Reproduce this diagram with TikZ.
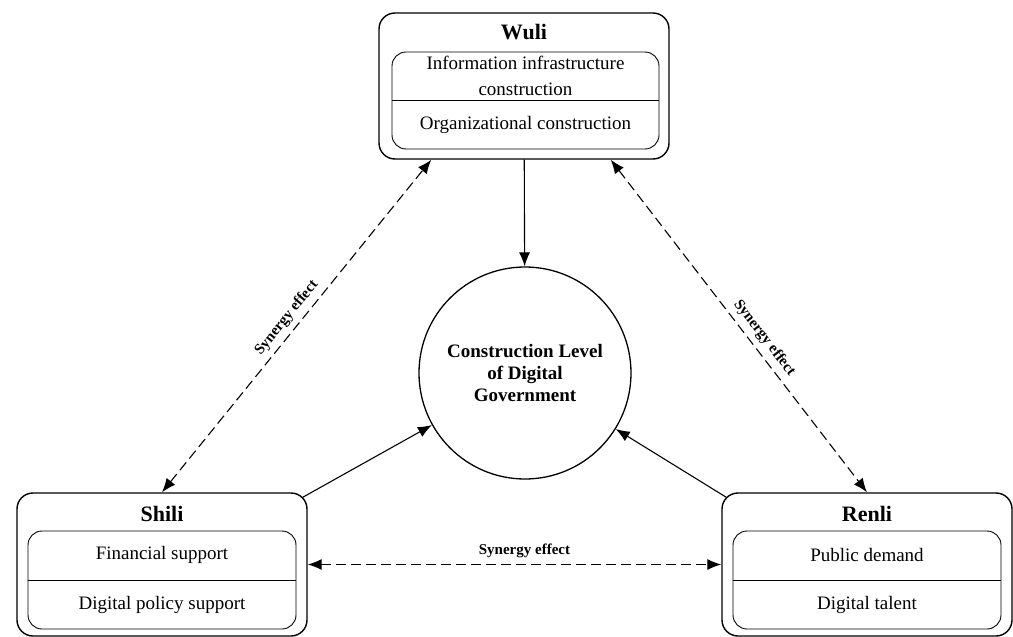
\documentclass[tikz,border=0pt]{standalone}
\usepackage{fontspec}
\setmainfont{Liberation Serif}
\usetikzlibrary{positioning}
\usetikzlibrary{calc}
\usetikzlibrary{arrows.meta}

\tikzset{
  outerbox/.style={draw, line width=1.4, rounded corners=16, minimum width=290, minimum height=143},
  innerbox/.style={draw, line width=0.9, rounded corners=14, minimum width=268, minimum height=98},
  title/.style={font=\fontsize{22}{24}\selectfont\bfseries},
  item/.style={font=\fontsize{19}{26}\selectfont, align=center},
  link/.style={-{Latex[length=14,width=11]}, line width=1.1},
  synergy/.style={{Latex[length=14,width=11]}-{Latex[length=14,width=11]}, line width=1.1, dash pattern=on 10 off 5},
  lbl/.style={font=\fontsize{15}{17}\selectfont\bfseries}
}

\begin{document}
\begin{tikzpicture}[x=1pt, y=-1pt]
      \useasboundingbox (0,0) rectangle (1013,637);

      % Wuli
      \node[outerbox, minimum height=146] (wuli) at (524,86) {};
      \node[title] (wulit) at (524,32) {Wuli};
      \node[innerbox, minimum width=267, minimum height=97] (wuliin) at (525.5,100.5) {};
      \draw [line width=0.9] (wuliin.west) -- (wuliin.east);
      \node[item] (wuli1) at ($(wuliin.center)!0.5!(wuliin.north)$) {Information infrastructure\\construction};
      \node[item] (wuli2) at ($(wuliin.center)!0.5!(wuliin.south)$) {Organizational construction};

      % Shili
      \node[outerbox] (shili) at (162,564.5) {};
      \node[title] (shilit) at (162,514) {Shili};
      \node[innerbox] (shiliin) at (162,580) {};
      \draw [line width=0.9] (shiliin.west) -- (shiliin.east);
      \node[item] (shili1) at ($(shiliin.center)!0.5!(shiliin.north)$) {Financial support};
      \node[item] (shili2) at ($(shiliin.center)!0.5!(shiliin.south)$) {Digital policy support};

      % Renli
      \node[outerbox] (renli) at (867,564.5) {};
      \node[title] (renlit) at (867,514) {Renli};
      \node[innerbox] (renliin) at (867,580) {};
      \draw [line width=0.9] (renliin.west) -- (renliin.east);
      \node[item] (renli1) at ($(renliin.center)!0.5!(renliin.north)$) {Public demand};
      \node[item] (renli2) at ($(renliin.center)!0.5!(renliin.south)$) {Digital talent};

      % centre
      \node[draw, circle, line width=1.3, minimum size=212, align=center,
            font=\fontsize{19}{22}\selectfont\bfseries] (gov) at (525,373)
            {Construction Level\\of Digital\\Government};

      \draw [link] (wuli) -- (gov);
      \draw [link] ([xshift=-5,yshift=-5]shili.north east) -- (gov);
      \draw [link] ([xshift=5,yshift=-5]renli.north west) -- (gov);

      \draw [synergy] (shili.north) -- ([xshift=53]wuli.south west)
            node[lbl, midway, sloped, above=2pt] {Synergy effect};
      \draw [synergy] ([xshift=-59]wuli.south east) -- (renli.north)
            node[lbl, pos=0.56, sloped, above=2pt] {Synergy effect};
      \draw [synergy] (shili.east) -- (renli.west)
            node[lbl, midway, above=3pt, xshift=10] {Synergy effect};
\end{tikzpicture}
\end{document}
